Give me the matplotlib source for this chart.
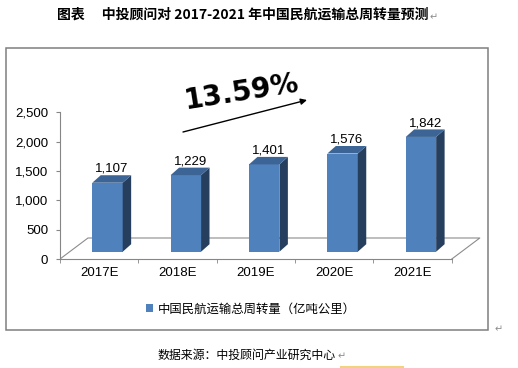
import numpy as np
import matplotlib
matplotlib.use("Agg")
import matplotlib.pyplot as plt
from matplotlib.patches import Rectangle, Polygon, Patch
from matplotlib.lines import Line2D
from matplotlib.font_manager import FontProperties

# data
years = ["2017E", "2018E", "2019E", "2020E", "2021E"]
values = [1107, 1229, 1401, 1576, 1842]
yticks = [0, 500, 1000, 1500, 2000, 2500]
growth = "13.59%"
series_name = "中国民航运输总周转量（亿吨公里）"
title = "图表　 中投顾问对 2017-2021 年中国民航运输总周转量预测"
source = "数据来源：中投顾问产业研究中心"

plt.rcParams["font.family"] = ["Liberation Sans", "DejaVu Sans"]
cjk = ["Noto Sans CJK SC", "DejaVu Sans"]

W, H = 518, 368
def fx(px):
    return px / W
def fy(py):
    return 1 - py / H

front_c = "#4F81BD"
side_c = "#263F5E"
top_c = "#3C6596"
grey = "#868686"

fig = plt.figure(figsize=(W / 100, H / 100), dpi=100)

# outer frame of the chart object
fig.patches.append(Rectangle((fx(6), fy(330)), 482 / W, 282 / H, transform=fig.transFigure,
                             fill=False, ec="#7F7F7F", lw=1.1))

ax = fig.add_axes([fx(60), fy(259), 431 / W, 219 / H])
ax.set_xlim(0, 5.5)
ax.set_ylim(0, 219 * 2500 / 146.7)
ax.patch.set_visible(False)

# 3d look parameters
off, bw = 0.412, 0.388      # bar front face within category
base = 124                  # bar sits a bit back on the floor
dx, dy = 0.108, 128         # bar depth
k = 1.062                   # bars are drawn further back -> slightly bigger scale
fdx, fdy = 0.357, 358       # floor depth
n = len(years)

ax.plot([0, fdx, n + fdx, n], [0, fdy, fdy, 0], color="#8C8C8C", lw=0.8, zorder=1)

for i, v in enumerate(values):
    x0 = i + off
    h = v * k
    top = base + h
    ax.add_patch(Rectangle((x0, base), bw, h, fc=front_c, ec="none", zorder=3))
    ax.add_patch(Polygon([(x0 + bw, base), (x0 + bw + dx, base + dy), (x0 + bw + dx, top + dy),
                          (x0 + bw, top)], closed=True, fc=side_c, ec="none", zorder=3))
    ax.add_patch(Polygon([(x0, top), (x0 + dx, top + dy), (x0 + bw + dx, top + dy), (x0 + bw, top)],
                         closed=True, fc=top_c, ec="none", zorder=3))
    ax.text(x0 + (bw + dx) / 2, top + dy + 5, f"{v:,}", ha="center", va="bottom",
            fontsize=9.5, zorder=4)

for s in ["top", "right"]:
    ax.spines[s].set_visible(False)
ax.spines["left"].set_bounds(0, 2500)
ax.spines["bottom"].set_bounds(0, n)
ax.spines["left"].set_color(grey)
ax.spines["bottom"].set_color(grey)
ax.spines["left"].set_zorder(5)
ax.spines["bottom"].set_zorder(5)

ax.set_yticks(yticks, labels=[f"{t:,}" for t in yticks])
ax.tick_params(axis="y", length=3, pad=5.5, color=grey, labelsize=9.5)
ax.set_xticks(np.arange(n) + 0.5, labels=years)
ax.set_xticks(np.arange(n + 1), minor=True)
ax.tick_params(axis="x", which="major", length=0, pad=6, labelsize=9.5)
ax.tick_params(axis="x", which="minor", length=3, color=grey)

# growth annotation
fig.text(fx(242), fy(92.5), growth, family="DejaVu Sans", weight="bold", fontsize=20,
         rotation=9, rotation_mode="anchor", ha="center", va="center")
ax.annotate("", xy=(fx(307), fy(100)), xytext=(fx(183), fy(132)), xycoords="figure fraction",
            arrowprops=dict(arrowstyle="-|>", color="black", lw=1, mutation_scale=9,
                            shrinkA=0, shrinkB=0))

fig.legend(handles=[Patch(fc=front_c, ec="none")], labels=[series_name], loc="center",
           bbox_to_anchor=(fx(251), fy(309)), frameon=False,
           prop=FontProperties(family=cjk, size=8.9), handlelength=0.55, handleheight=0.55,
           handletextpad=0.4, borderpad=0)

t1 = fig.text(fx(57), fy(15), title, family=cjk, weight="bold", fontsize=10, ha="left", va="center")
t2 = fig.text(fx(158), fy(355), source, family=cjk, fontsize=8.6, ha="left", va="center")

# word paragraph marks
fig.canvas.draw()
for t in (t1, t2):
    bb = t.get_window_extent()
    fig.text(bb.x1 / W + 0.002, bb.y0 / H, "↵", family=cjk, fontsize=7, color="#8C8C8C",
             ha="left", va="bottom")
fig.text(fx(495), fy(334), "↵", family=cjk, fontsize=7, color="#8C8C8C", ha="left", va="bottom")
fig.add_artist(Line2D([fx(341), fx(403)], [fy(366.5), fy(366.5)], color="#F2D27A", lw=1.5))

fig.savefig("out.png", dpi=100)
